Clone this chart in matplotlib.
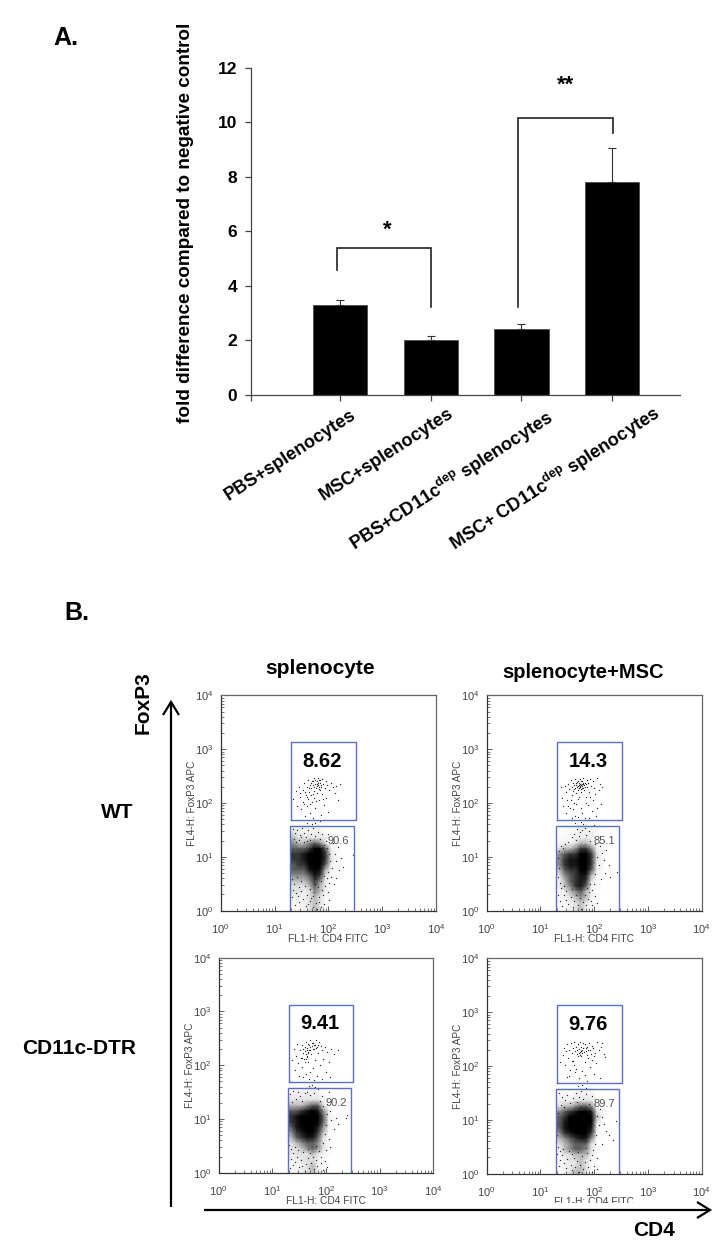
import numpy as np
import matplotlib
matplotlib.use("Agg")
import matplotlib.pyplot as plt
from matplotlib.colors import LinearSegmentedColormap
from matplotlib.ticker import LogLocator, NullFormatter, LogFormatterMathtext

plt.rcParams['font.family'] = ['Liberation Sans', 'DejaVu Sans']
plt.rcParams['mathtext.fontset'] = 'custom'
plt.rcParams['mathtext.rm'] = 'Liberation Sans'
plt.rcParams['mathtext.bf'] = 'Liberation Sans:bold'

W, H = 719, 1244

# ---------- Panel A data ----------
categories = ["PBS+splenocytes", "MSC+splenocytes",
              r"PBS+CD11c$^{\mathbf{dep}}$ splenocytes",
              r"MSC+ CD11c$^{\mathbf{dep}}$ splenocytes"]
bar_values = [3.3, 2.0, 2.43, 7.8]
bar_errors = [0.18, 0.15, 0.17, 1.27]
y_ticks_a = [0, 2, 4, 6, 8, 10, 12]

# ---------- Panel B data (log10 coordinates, read by eye) ----------
panel_titles = ["splenocyte", "splenocyte+MSC"]
row_labels = ["WT", "CD11c-DTR"]
upper_pct = ["8.62", "14.3", "9.41", "9.76"]
lower_pct = ["90.6", "85.1", "90.2", "89.7"]

# darkness of the lower population: rows log y 1.55 ... 0.05, columns log x 1.35 ... 2.35
density_wt_spl = [
    [2,2,2,2,1,1,0,0,0,0,0],[3,2,2,2,2,2,1,0,0,0,0],[4,3,3,3,3,3,2,1,0,0,0],[5,4,4,5,6,5,3,1,0,0,0],
    [6,6,6,7,9,9,6,2,1,0,0],[7,7,8,9,9,9,7,3,1,0,0],[7,7,8,9,9,9,7,3,1,0,0],[6,7,7,9,9,9,6,2,1,0,0],
    [6,6,6,8,9,8,4,2,1,0,0],[5,5,5,6,8,7,3,1,1,0,0],[4,4,4,5,7,5,2,1,0,0,0],[3,3,3,4,6,4,2,1,0,0,0],
    [3,3,2,3,5,4,1,0,0,0,0],[2,2,2,3,4,3,1,0,0,0,0],[1,1,2,3,4,3,1,0,0,0,0],[1,1,2,3,4,3,1,0,0,0,0]]
density_wt_msc = [
    [0,1,1,1,2,2,1,1,0,0,0],[0,1,1,2,2,2,2,1,0,0,0],[1,1,1,2,2,3,2,1,0,0,0],[1,2,2,3,4,4,3,1,0,0,0],
    [3,4,4,5,7,7,5,2,1,0,0],[5,6,7,7,9,9,7,3,1,0,0],[5,7,8,8,9,9,7,3,1,0,0],[5,7,8,8,9,9,7,2,1,0,0],
    [4,6,7,7,9,9,6,2,1,0,0],[3,5,6,7,8,8,4,1,1,0,0],[2,4,6,7,8,7,3,1,0,0,0],[2,4,5,7,8,6,2,1,0,0,0],
    [1,2,4,5,6,4,1,1,0,0,0],[1,2,3,4,5,4,2,0,0,0,0],[1,1,2,3,4,3,1,0,0,0,0],[1,1,2,3,4,2,1,0,0,0,0]]
density_dtr_spl = [
    [1,1,1,2,2,1,1,0,0,0,0],[2,2,2,2,2,2,1,0,0,0,0],[3,3,3,3,3,3,2,1,0,0,0],[4,4,4,5,6,6,3,1,0,0,0],
    [6,6,7,8,9,8,5,2,0,0,0],[7,8,9,9,9,9,6,2,1,0,0],[7,8,9,9,9,9,6,2,1,0,0],[6,8,9,9,9,8,5,2,1,0,0],
    [5,7,8,9,9,7,4,1,0,0,0],[4,6,7,8,8,6,3,1,0,0,0],[3,4,5,6,6,5,3,1,0,0,0],[3,3,4,5,6,5,3,1,0,0,0],
    [2,3,3,3,4,3,2,1,0,0,0],[2,2,3,3,3,2,1,0,0,0,0],[1,2,2,3,4,2,1,0,0,0,0],[1,2,2,3,4,2,1,0,0,0,0]]
density_dtr_msc = [
    [1,1,1,1,2,1,1,0,0,0,0],[1,1,1,2,2,2,2,0,0,0,0],[2,2,2,3,3,3,3,1,0,0,0],[3,4,4,5,6,6,5,2,0,0,0],
    [5,6,7,8,9,9,8,3,1,0,0],[6,7,9,9,9,9,9,4,1,0,0],[6,8,9,9,9,9,9,3,1,0,0],[6,8,9,9,9,9,8,2,1,0,0],
    [5,7,8,9,9,9,7,2,1,0,0],[4,5,6,7,8,8,5,1,1,0,0],[3,4,5,6,6,6,3,1,0,0,0],[2,4,5,6,6,5,3,1,0,0,0],
    [1,3,3,4,4,4,2,0,0,0,0],[1,2,3,3,4,3,2,0,0,0,0],[1,2,2,3,4,3,1,0,0,0,0],[1,2,3,4,4,3,1,0,0,0,0]]

# individually read dots: upper gate, the gap between gates, fringe of the lower cloud
dots_wt_spl = [
 (1.35,2.08),(1.40,2.22),(1.42,1.95),(1.45,2.30),(1.47,2.12),(1.50,1.88),(1.52,2.02),(1.53,2.24),(1.55,2.38),(1.56,1.75),
 (1.58,2.15),(1.60,2.30),(1.60,1.95),(1.62,2.08),(1.63,2.42),(1.64,2.20),(1.65,1.82),(1.66,2.34),(1.67,2.14),(1.68,2.27),
 (1.69,2.02),(1.70,2.40),(1.71,1.72),(1.72,2.33),(1.73,2.22),(1.73,2.46),(1.74,2.10),(1.75,2.36),(1.76,1.90),(1.77,2.28),
 (1.78,2.41),(1.79,2.18),(1.80,2.34),(1.81,2.47),(1.82,2.05),(1.83,2.26),(1.84,2.37),(1.85,2.42),(1.86,1.78),(1.87,2.30),
 (1.88,2.16),(1.89,2.44),(1.90,2.35),(1.92,1.96),(1.93,2.27),(1.95,2.40),(1.96,2.10),(1.98,2.33),(2.00,1.84),(2.02,2.25),
 (2.05,2.38),(2.08,2.30),(2.12,2.18),(2.15,2.32),(2.18,2.05),(2.22,2.35),(1.75,1.63),(1.69,1.61),(1.85,1.66),(1.60,1.62),
 (1.57,2.21),(1.61,2.11),(1.64,2.27),(1.68,2.37),(1.71,2.17),(1.74,2.29),(1.76,2.42),(1.78,2.31),(1.81,2.38),(1.83,2.43),
 (1.86,2.33),(1.79,2.36),(1.82,2.30),(1.85,2.25),(1.72,2.41),(1.48,2.19),(1.66,1.98),(1.77,2.03),(1.90,2.08),(1.54,1.98),
 (2.08,1.25),(2.12,1.05),(2.15,0.92),(2.18,1.18),(2.20,0.75),(2.24,0.98),(2.28,0.82),(2.05,0.62),(2.10,0.50),(2.00,0.35),
 (2.02,0.20),(2.45,1.03),(1.95,1.30),(2.00,1.42),(1.90,0.30),(2.14,0.60),(1.92,0.12),(1.33,0.25),(1.38,0.10),(1.46,0.16),
 (1.34,1.52),(1.38,1.44),(1.42,1.50),(1.47,1.40),(1.51,1.53),(1.55,1.45),(1.59,1.36),(1.63,1.50),(1.68,1.42),(1.72,1.53),
 (1.76,1.38),(1.80,1.47),(1.84,1.33),(1.88,1.43),(1.36,1.34),(1.40,1.28),(1.45,1.31),(1.50,1.37),(1.54,1.27),(1.60,1.29),
 (1.65,1.31),(1.92,1.22),(1.98,1.16),(2.01,1.05),(2.03,0.92),(2.06,0.80),(1.99,0.72),(1.97,0.60),(2.01,0.52),(1.94,0.46),
 (1.33,0.58),(1.37,0.50),(1.41,0.62),(1.45,0.44),(1.49,0.55),(1.35,0.38),(1.39,0.32),(1.44,0.27),(1.50,0.36),(1.53,0.22),
 (1.56,0.45),(1.60,0.30),(1.62,0.12),(1.65,0.40),(1.68,0.24),(1.71,0.06),(1.74,0.34),(1.77,0.14),(1.80,0.44),(1.83,0.26),
 (1.86,0.07),(1.89,0.38),(1.58,0.08),(1.66,0.18),(1.72,0.28),(1.78,0.04),(1.82,0.16),(1.75,0.50),(1.87,0.55),(1.92,0.64)]
dots_wt_msc = [
 (1.38,2.30),(1.40,2.10),(1.42,1.95),(1.45,2.32),(1.47,2.20),(1.48,1.82),(1.50,2.05),(1.52,2.36),(1.54,2.26),(1.55,1.90),
 (1.56,2.42),(1.58,2.14),(1.59,2.30),(1.60,2.38),(1.61,2.22),(1.62,2.00),(1.63,2.34),(1.64,2.44),(1.65,2.28),(1.65,1.76),
 (1.66,2.18),(1.67,2.37),(1.68,2.30),(1.69,2.24),(1.70,2.40),(1.70,2.08),(1.71,2.34),(1.72,2.27),(1.73,2.31),(1.73,2.44),
 (1.74,2.36),(1.75,2.20),(1.75,1.90),(1.76,2.33),(1.77,2.28),(1.78,2.40),(1.79,2.35),(1.80,2.47),(1.81,2.24),(1.82,1.72),
 (1.83,2.37),(1.84,2.12),(1.86,2.42),(1.87,2.30),(1.88,1.96),(1.89,2.38),(1.90,2.20),(1.92,2.44),(1.94,2.32),(1.95,1.85),
 (1.97,2.05),(1.98,2.40),(2.00,2.28),(2.02,2.16),(2.03,1.75),(2.05,2.46),(2.08,2.25),(2.10,2.36),(2.12,1.98),(2.15,2.30),
 (1.63,2.26),(1.66,2.33),(1.68,2.39),(1.69,2.32),(1.71,2.28),(1.72,2.38),(1.74,2.30),(1.75,2.41),(1.76,2.26),(1.77,2.36),
 (1.78,2.31),(1.79,2.27),(1.80,2.38),(1.81,2.33),(1.83,2.29),(1.85,2.35),(1.57,2.06),(1.60,1.88),(1.67,1.98),(1.72,2.12),
 (1.78,1.82),(1.85,2.00),(1.90,1.72),(1.58,1.72),(1.52,1.95),(1.70,1.74),(1.92,2.12),(2.05,1.90),
 (1.65,1.62),(1.70,1.58),(1.75,1.65),(1.80,1.61),(1.68,1.52),(1.74,1.46),(1.82,1.54),(1.62,1.42),(1.90,1.48),(2.00,1.60),
 (1.72,1.38),(1.78,1.50),(1.85,1.40),(1.66,1.32),(1.58,1.36),(1.52,1.28),(1.45,1.24),(1.38,1.20),(1.93,1.30),(2.02,1.24),
 (2.10,1.20),(2.15,1.08),(2.18,0.95),(2.22,1.12),(2.28,0.85),(2.20,0.70),(2.12,0.58),(2.30,0.62),(2.42,0.72),(2.02,0.28),
 (2.05,0.15),(1.95,0.10),(1.36,0.18),(1.40,0.08),(1.33,0.30),(1.33,0.98),(1.34,0.80),(1.32,0.62),(1.36,0.52),(1.39,0.42),
 (1.35,1.10),(1.42,1.17),(2.05,1.00),(2.08,0.85),(2.01,0.68),(1.99,0.50),(1.96,0.38),(1.43,0.30),(1.47,0.20),(1.52,0.12),
 (1.56,0.26),(1.60,0.06),(1.63,0.18),(1.66,0.30),(1.70,0.10),(1.73,0.24),(1.76,0.04),(1.79,0.16),(1.82,0.30),(1.85,0.10),
 (1.88,0.22),(1.91,0.34),(1.94,0.18),(1.68,0.40),(1.58,0.40),(1.48,0.36),(1.44,0.46),(1.86,0.42),(1.92,0.50)]
dots_dtr_spl = [
 (1.37,2.10),(1.40,2.30),(1.42,1.92),(1.44,2.18),(1.46,2.40),(1.48,2.04),(1.50,1.80),(1.52,2.28),(1.53,2.14),(1.55,2.38),
 (1.56,1.96),(1.57,2.30),(1.58,2.22),(1.59,2.12),(1.60,2.34),(1.61,2.26),(1.62,1.84),(1.63,2.44),(1.64,2.18),(1.65,2.32),
 (1.66,2.24),(1.66,2.06),(1.67,2.40),(1.68,2.28),(1.69,1.75),(1.70,2.34),(1.71,2.46),(1.72,2.20),(1.74,2.36),(1.75,1.95),
 (1.76,2.42),(1.78,2.30),(1.79,2.10),(1.80,2.38),(1.82,2.46),(1.83,1.80),(1.84,2.34),(1.85,2.22),(1.87,2.44),(1.88,2.00),
 (1.90,2.36),(1.92,1.74),(1.93,2.28),(1.95,2.12),(1.98,2.34),(2.00,1.88),(2.02,2.24),(2.05,2.06),(2.08,1.78),(2.10,2.30),
 (2.15,2.20),(2.22,2.28),(1.62,2.21),(1.64,2.29),(1.65,2.16),(1.67,2.23),(1.63,2.12),(1.69,2.38),(1.71,2.28),(1.73,2.42),
 (1.75,2.31),(1.77,2.38),(1.81,2.32),(1.86,2.38),(1.60,2.06),(1.56,2.14),(1.70,1.88),(1.58,1.78),(1.77,1.72),
 (1.68,1.62),(1.74,1.64),(1.72,1.58),(1.80,1.60),(1.85,1.55),(2.05,1.50),(1.64,1.50),(1.78,1.48),(1.70,1.44),(1.92,1.42),
 (1.32,1.46),(1.38,1.52),(1.44,1.38),(1.48,1.50),(1.52,1.42),(1.56,1.34),(1.60,1.48),(1.88,1.34),(1.95,1.24),(1.36,1.32),
 (2.02,1.28),(2.08,1.15),(2.10,0.98),(2.15,0.82),(2.18,1.02),(2.22,0.90),(2.05,0.62),(2.40,1.08),(2.38,1.02),(2.00,0.42),
 (2.08,0.48),(1.98,0.22),(2.02,0.10),(1.94,0.05),(1.90,0.30),(2.02,1.10),(2.00,0.88),(1.98,0.72),(1.95,0.56),
 (1.31,0.52),(1.35,0.44),(1.39,0.36),(1.43,0.48),(1.34,0.26),(1.38,0.14),(1.42,0.20),(1.46,0.30),(1.50,0.10),(1.54,0.24),
 (1.58,0.38),(1.60,0.04),(1.63,0.16),(1.66,0.28),(1.69,0.08),(1.72,0.18),(1.70,0.36),(1.75,0.30),(1.78,0.06),(1.81,0.24),
 (1.84,0.12),(1.87,0.40),(1.90,0.18),(1.56,0.12),(1.48,0.42),(1.67,0.44),(1.82,0.50),(1.33,0.08),(1.30,0.70),(1.32,1.12)]
dots_dtr_msc = [
 (1.36,2.08),(1.42,2.20),(1.44,2.34),(1.46,2.02),(1.48,2.28),(1.49,1.80),(1.50,2.40),(1.52,2.15),(1.54,2.30),(1.55,1.92),
 (1.56,2.42),(1.58,2.24),(1.60,2.34),(1.61,2.10),(1.63,2.45),(1.64,1.88),(1.65,2.28),(1.66,2.36),(1.67,1.95),(1.68,2.22),
 (1.70,2.40),(1.71,2.32),(1.72,1.78),(1.73,2.26),(1.74,2.44),(1.75,2.35),(1.76,2.18),(1.77,2.30),(1.78,1.90),(1.79,2.42),
 (1.80,2.34),(1.82,2.08),(1.83,2.40),(1.85,2.28),(1.86,1.72),(1.87,2.36),(1.88,2.15),(1.90,2.42),(1.92,2.30),(1.93,1.98),
 (1.95,2.38),(1.96,2.12),(1.98,2.33),(2.00,1.85),(2.02,2.24),(2.04,2.06),(2.05,2.44),(2.08,2.30),(2.10,1.78),(2.12,2.36),
 (2.15,2.42),(2.18,2.22),(2.20,2.16),(1.68,2.29),(1.72,2.24),(1.74,2.21),(1.76,2.28),(1.78,2.25),(1.75,2.27),(1.70,2.18),
 (1.81,2.26),(1.84,2.33),(1.86,2.20),(1.89,2.29),(1.94,2.22),(1.99,2.18),(1.58,2.10),(1.62,2.02),(1.53,1.82),(1.82,1.84),
 (1.70,1.62),(1.78,1.65),(1.84,1.60),(1.76,1.54),(1.92,1.58),(1.66,1.50),(1.85,1.48),(1.72,1.42),(1.80,1.38),(1.95,1.44),
 (1.34,1.50),(1.40,1.42),(1.45,1.36),(1.50,1.46),(1.55,1.32),(1.60,1.40),(1.68,1.34),(1.38,1.28),(1.43,1.24),(1.90,1.30),
 (2.10,1.20),(2.14,1.05),(2.18,0.92),(2.22,0.80),(2.28,0.72),(2.35,0.62),(2.40,0.98),(2.15,0.55),(2.05,0.30),(2.00,0.15),
 (2.06,0.08),(1.96,0.04),(1.34,0.14),(1.37,0.26),(2.06,1.08),(2.08,0.90),(2.04,0.72),(2.02,0.56),(1.98,0.44),(1.32,0.50),
 (1.31,0.36),(1.36,0.42),(1.40,0.34),(1.44,0.20),(1.47,0.10),(1.50,0.28),(1.53,0.42),(1.56,0.16),(1.59,0.06),(1.62,0.30),
 (1.65,0.12),(1.68,0.24),(1.71,0.04),(1.74,0.16),(1.77,0.32),(1.80,0.08),(1.83,0.22),(1.86,0.38),(1.89,0.12),(1.92,0.26),
 (1.95,0.34),(1.58,0.36),(1.70,0.40),(1.84,0.48),(1.42,0.46),(1.31,0.72),(1.32,0.92),(1.33,1.12)]

densities = [density_wt_spl, density_wt_msc, density_dtr_spl, density_dtr_msc]
dot_sets = [dots_wt_spl, dots_wt_msc, dots_dtr_spl, dots_dtr_msc]

# ---------- Layout (pixels) ----------
AX_A = (251, 680, 68, 394.7)
PANELS = [(220.7, 436, 695.3, 910.7), (486.7, 701.7, 695.3, 910.7),
          (218.7, 433.3, 957.7, 1172.7), (486.7, 701.7, 958.3, 1173.7)]
UP_GATE = (1.31, 2.51, 1.68, 3.125)
LOW_GATE = (1.295, 2.47, 1.575)

fig = plt.figure(figsize=(W / 100, H / 100), dpi=100, facecolor='white')


def add_axes(box):
    l, r, t, b = box
    return fig.add_axes([l / W, 1 - b / H, (r - l) / W, (b - t) / H])


# ---------- Panel A ----------
ax = add_axes(AX_A)
x = np.arange(len(categories))
ax.bar(x, bar_values, width=0.6, color='black', edgecolor='#444444', linewidth=0.5, zorder=2)
ax.errorbar(x, bar_values, yerr=[np.zeros(4), bar_errors], fmt='none', ecolor='#333333',
            elinewidth=0.8, capsize=3.2, capthick=0.8, zorder=1)
ax.set_xlim(-0.985, 3.75)
ax.set_ylim(0, 12)
ax.set_yticks(y_ticks_a)
ax.set_yticklabels([str(v) for v in y_ticks_a], fontsize=12.5, fontweight='bold')
ax.set_xticks(list(x) + [-0.985])
ax.set_xticklabels(categories + [""])
for s in ('top', 'right'):
    ax.spines[s].set_visible(False)
for s in ('left', 'bottom'):
    ax.spines[s].set_color('#444444')
    ax.spines[s].set_linewidth(0.9)
ax.tick_params(axis='both', length=4, width=0.9, color='#444444', pad=6)
ax.tick_params(axis='x', labelbottom=False)

# ---------- Overlay in pixel coordinates ----------
ov = fig.add_axes([0, 0, 1, 1], zorder=10)
ov.set_xlim(0, W)
ov.set_ylim(H, 0)
ov.axis('off')
ov.patch.set_alpha(0)

label_ends = [(350, 406), (447, 405), (545, 406), (652, 402)]
for lab, (ex, ey) in zip(categories, label_ends):
    ov.text(ex, ey, lab, rotation=33, rotation_mode='anchor', ha='right', va='top',
            fontsize=13.1, fontweight='bold', color='black')

ov.text(185, 223, "fold difference compared to negative control", rotation=90, ha='center', va='center',
        fontsize=13.6, fontweight='bold')
ov.text(53, 38, "A.", fontsize=18, fontweight='bold', va='center')
ov.text(64, 613, "B.", fontsize=18, fontweight='bold', va='center')

bk = dict(color='#222222', lw=1.2, solid_joinstyle='miter')
ov.plot([336.7, 336.7, 431.3, 431.3], [270, 248.3, 248.3, 306.7], **bk)
ov.plot([517.7, 517.7, 612.7, 612.7], [306.7, 117.7, 117.7, 132.7], **bk)
ov.text(387, 230, "*", ha='center', va='center', fontsize=16, fontweight='bold')
ov.text(566, 85, "**", ha='center', va='center', fontsize=16, fontweight='bold')

# ---------- Panel B ----------
cmap = LinearSegmentedColormap.from_list('dots', ['#ffffff', '#f8f8f8', '#e2e2e2', '#a6a6a6',
                                                  '#5e5e5e', '#222222', '#000000'])
x_nodes = [1.30] + [round(1.35 + 0.1 * i, 2) for i in range(11)]
y_nodes = [1.58] + [round(1.55 - 0.1 * i, 2) for i in range(16)] + [0.0]

for i, box in enumerate(PANELS):
    a = add_axes(box)
    a.set_xscale('log')
    a.set_yscale('log')
    a.set_xlim(1, 1e4)
    a.set_ylim(1, 1e4)
    d = np.pad(np.array(densities[i], float), ((1, 1), (1, 0)), mode='edge')
    a.pcolormesh(10 ** np.array(x_nodes), 10 ** np.array(y_nodes), d, shading='gouraud',
                 cmap=cmap, vmin=0, vmax=9, zorder=1, rasterized=True)
    pts = np.array(dot_sets[i])
    a.scatter(10 ** pts[:, 0], 10 ** pts[:, 1], s=0.9, c='#2a2a2a', linewidths=0, zorder=2)
    gx0, gx1, gy0, gy1 = UP_GATE
    a.plot(10 ** np.array([gx0, gx1, gx1, gx0, gx0]), 10 ** np.array([gy0, gy0, gy1, gy1, gy0]),
           color='#5b6fc4', lw=1.0, zorder=3, solid_joinstyle='miter')
    lx0, lx1, ly1 = LOW_GATE
    a.plot(10 ** np.array([lx0, lx0, lx1, lx1]), 10 ** np.array([0, ly1, ly1, 0]),
           color='#5b6fc4', lw=1.0, zorder=3, solid_joinstyle='miter')
    a.text(10 ** 1.89, 10 ** 2.77, upper_pct[i], ha='center', va='center', fontsize=14.5,
           fontweight='bold', color='black', zorder=4)
    a.text(10 ** 2.19, 10 ** 1.3, lower_pct[i], ha='center', va='center', fontsize=8,
           color='#555555', zorder=4)
    for s in a.spines.values():
        s.set_color('#666666')
        s.set_linewidth(0.9)
    a.spines['bottom'].set_color('#333333')
    a.spines['left'].set_color('#333333')
    a.xaxis.set_major_locator(LogLocator(base=10, numticks=6))
    a.yaxis.set_major_locator(LogLocator(base=10, numticks=6))
    a.xaxis.set_minor_locator(LogLocator(base=10, subs=np.arange(2, 10) * 0.1, numticks=6))
    a.yaxis.set_minor_locator(LogLocator(base=10, subs=np.arange(2, 10) * 0.1, numticks=6))
    a.xaxis.set_major_formatter(LogFormatterMathtext())
    a.yaxis.set_major_formatter(LogFormatterMathtext())
    a.xaxis.set_minor_formatter(NullFormatter())
    a.yaxis.set_minor_formatter(NullFormatter())
    a.tick_params(axis='both', which='major', direction='in', length=3.5, width=0.6, color='#444444',
                  labelsize=8, labelcolor='#444444')
    a.tick_params(axis='x', which='major', pad=8)
    a.tick_params(axis='y', which='major', pad=5)
    a.tick_params(axis='both', which='minor', direction='in', length=2, width=0.5, color='#444444')
    a.set_xlabel("FL1-H: CD4 FITC", fontsize=7.4, color='#444444', labelpad=-1)
    a.set_ylabel("FL4-H: FoxP3 APC", fontsize=7.2, color='#444444', labelpad=-1)

# clipped x label in the last panel
ov.add_patch(plt.Rectangle((540, 1203), 110, 7, facecolor='white', edgecolor='none', zorder=1))

ov.text(320, 668, panel_titles[0], ha='center', va='center', fontsize=15, fontweight='bold')
ov.text(583, 672, panel_titles[1], ha='center', va='center', fontsize=14.5, fontweight='bold')
ov.text(117, 813, row_labels[0], ha='center', va='center', fontsize=15, fontweight='bold')
ov.text(79, 1049, row_labels[1], ha='center', va='center', fontsize=15, fontweight='bold')
ov.text(143, 703, "FoxP3", rotation=90, ha='center', va='center', fontsize=15, fontweight='bold')
ov.text(654, 1230, "CD4", ha='center', va='center', fontsize=15, fontweight='bold')

ar = dict(color='black', lw=1.6, solid_capstyle='butt', solid_joinstyle='miter', zorder=3)
ov.plot([171, 171], [1207, 702], **ar)
ov.plot([163, 171, 179], [715, 702, 715], **ar)
ov.plot([204, 709], [1210, 1210], **ar)
ov.plot([697, 710, 697], [1202, 1210, 1218], **ar)

fig.savefig("out.png", dpi=100)
